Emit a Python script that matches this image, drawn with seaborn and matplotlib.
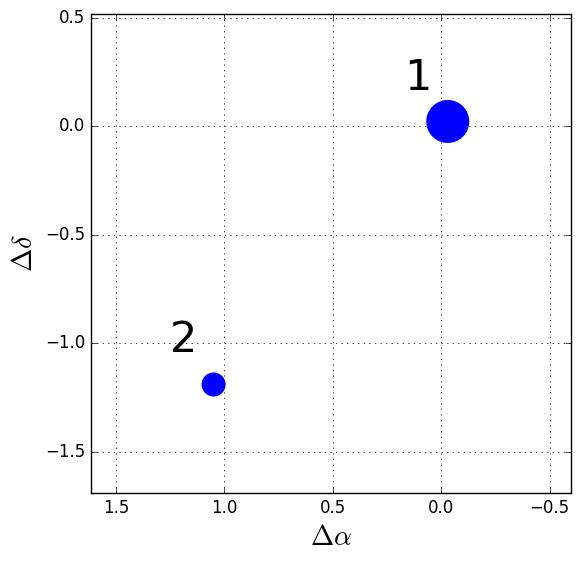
import matplotlib
matplotlib.use("Agg")
import matplotlib.pyplot as plt
import seaborn as sns
import pandas as pd

labels = ["1", "2"]
d_alpha = [-0.03, 1.05]
d_delta = [0.023, -1.189]
marker_sizes = [960, 300]
label_x = [0.106, 1.189]
label_y = [0.17, -1.041]

plt.style.use("classic")
fig = plt.figure(figsize=(5.8, 5.62), dpi=100)
ax = fig.add_axes([0.157, 0.1228, 0.984 - 0.157, 0.975 - 0.1228])

df = pd.DataFrame({"da": d_alpha, "dd": d_delta, "lab": labels})
sns.scatterplot(data=df, x="da", y="dd", size="lab",
                sizes=dict(zip(labels, marker_sizes)),
                color="blue", linewidth=0, legend=False, ax=ax, zorder=3)

for lx, ly, t in zip(label_x, label_y, labels):
    ax.text(lx, ly, t, fontsize=31, ha="center", va="baseline")

ax.set_xlim(1.615, -0.597)
ax.set_ylim(-1.689, 0.518)
ax.set_xticks([1.5, 1.0, 0.5, 0.0, -0.5])
ax.set_yticks([0.5, 0.0, -0.5, -1.0, -1.5])
ax.grid(True, color="black", linestyle=":", linewidth=0.5)
ax.tick_params(labelsize=12)
ax.set_xlabel(r"$\Delta\alpha$", fontsize=20)
ax.set_ylabel(r"$\Delta\delta$", fontsize=20)

fig.savefig("out.png", dpi=100)
